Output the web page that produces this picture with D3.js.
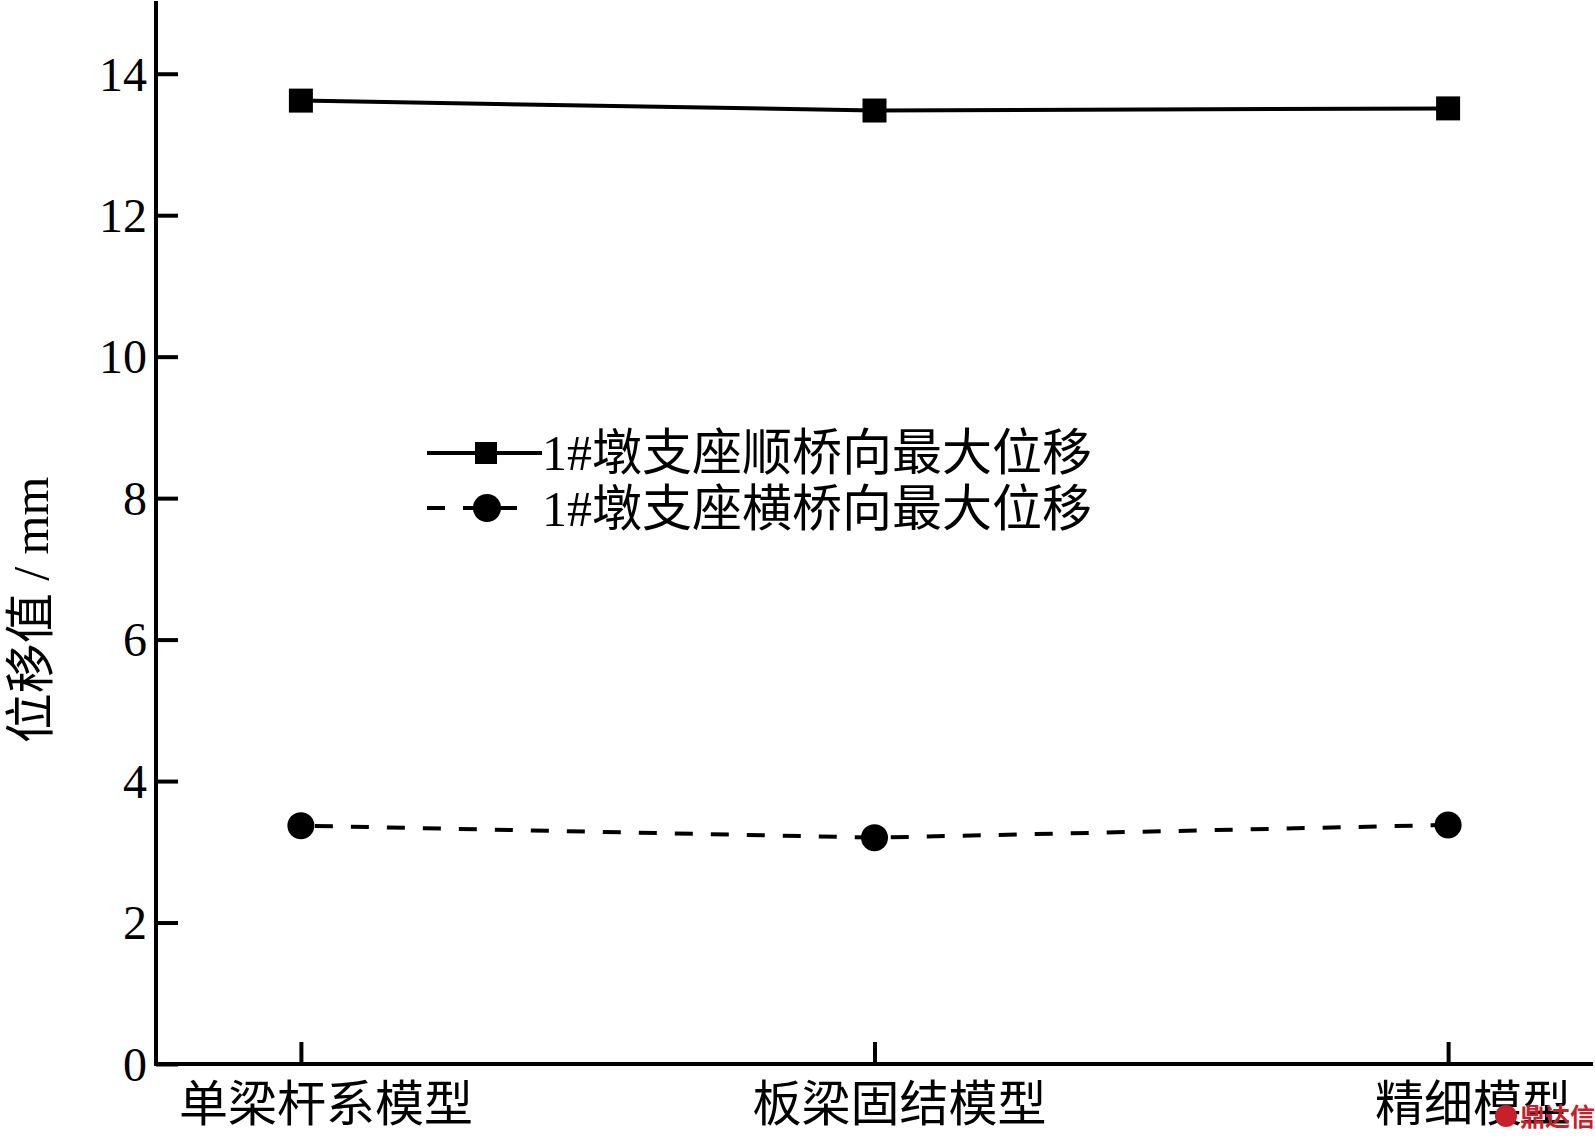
<!DOCTYPE html>
<html>
<head>
<meta charset="utf-8">
<script src="https://cdn.jsdelivr.net/npm/d3@7/dist/d3.min.js"></script>
<style>
  html, body { margin: 0; padding: 0; background: #fff; }
  svg { display: block; }
  text { font-family: "Liberation Serif", "Noto Sans CJK SC", serif; fill: #000; }
</style>
</head>
<body>
<svg id="chart" width="1595" height="1139"></svg>
<script>
const categories = ["单梁杆系模型", "板梁固结模型", "精细模型"];
const seriesNames = ["1#墩支座顺桥向最大位移", "1#墩支座横桥向最大位移"];
const longitudinal = [13.62, 13.48, 13.51];
const transverse = [3.37, 3.20, 3.38];
const yTicks = [0, 2, 4, 6, 8, 10, 12, 14];
const yTitle = "位移值 / mm";

(function () {
const svg = d3.select("#chart");
const mLeft = 156, mRight = 1593, mBottom = 1064, mTop = 3;

const x = d3.scalePoint().domain(categories).range([mLeft, mRight]).padding(0.2526);
const y = d3.scaleLinear().domain([0, 15]).range([mBottom, mTop]);

// axes
const yAxis = d3.axisLeft(y).tickValues(yTicks).tickSize(-22).tickPadding(10).tickFormat(d3.format("d"));
const gy = svg.append("g").attr("transform", `translate(${mLeft},0)`).call(yAxis);
gy.select(".domain").remove();
gy.selectAll(".tick line").attr("stroke", "#000").attr("stroke-width", 4);
gy.selectAll(".tick text").attr("font-size", 48).attr("x", -9).attr("dy", "0.34em")
  .attr("font-family", "Liberation Serif");

const xAxis = d3.axisBottom(x).tickSize(-22).tickPadding(0).tickFormat("");
const gx = svg.append("g").attr("transform", `translate(0,${mBottom})`).call(xAxis);
gx.select(".domain").remove();
gx.selectAll(".tick line").attr("stroke", "#000").attr("stroke-width", 4);

svg.append("g").selectAll("text").data(categories).join("text")
  .attr("x", d => x(d) + 25).attr("y", 1121)
  .attr("text-anchor", "middle").attr("font-size", 49)
  .text(d => d);

// axis lines
svg.append("line").attr("x1", mLeft).attr("x2", mLeft).attr("y1", 1).attr("y2", mBottom + 2)
  .attr("stroke", "#000").attr("stroke-width", 4);
svg.append("line").attr("x1", mLeft - 2).attr("x2", mRight).attr("y1", mBottom).attr("y2", mBottom)
  .attr("stroke", "#000").attr("stroke-width", 4);

// y title
svg.append("text")
  .attr("transform", `translate(48,610) rotate(-90)`)
  .attr("text-anchor", "middle").attr("font-size", 50)
  .text(yTitle);

// lines
const line = d3.line().x((d, i) => x(categories[i])).y(d => y(d));
svg.append("path").datum(longitudinal).attr("d", line)
  .attr("fill", "none").attr("stroke", "#000").attr("stroke-width", 4);
svg.append("path").datum(transverse).attr("d", line)
  .attr("fill", "none").attr("stroke", "#000").attr("stroke-width", 4)
  .attr("stroke-dasharray", "18,18").attr("stroke-dashoffset", -14);

// markers
const sq = 24;
svg.append("g").selectAll("rect").data(longitudinal).join("rect")
  .attr("x", (d, i) => x(categories[i]) - sq / 2).attr("y", d => y(d) - sq / 2)
  .attr("width", sq).attr("height", sq).attr("fill", "#000");
svg.append("g").selectAll("circle").data(transverse).join("circle")
  .attr("cx", (d, i) => x(categories[i])).attr("cy", d => y(d)).attr("r", 13.5).attr("fill", "#000");

// legend
const lg = svg.append("g");
lg.append("line").attr("x1", 427).attr("x2", 542).attr("y1", 453).attr("y2", 453)
  .attr("stroke", "#000").attr("stroke-width", 4);
lg.append("rect").attr("x", 486 - 11).attr("y", 453 - 11).attr("width", 22).attr("height", 22).attr("fill", "#000");
lg.append("text").attr("x", 542).attr("y", 470).attr("font-size", 50).text(seriesNames[0]);

lg.append("line").attr("x1", 427).attr("x2", 517).attr("y1", 508).attr("y2", 508)
  .attr("stroke", "#000").attr("stroke-width", 4).attr("stroke-dasharray", "18,18");
lg.append("circle").attr("cx", 487).attr("cy", 508).attr("r", 14).attr("fill", "#000");
lg.append("text").attr("x", 542).attr("y", 526).attr("font-size", 50).text(seriesNames[1]);

// watermark
const wm = svg.append("g");
wm.append("circle").attr("cx", 1506).attr("cy", 1116).attr("r", 11).attr("fill", "#c8202a");
wm.append("text").attr("x", 1520).attr("y", 1126).attr("font-size", 25).attr("font-weight", "bold")
  .attr("font-family", "Noto Sans CJK SC").style("fill", "#c8202a").text("鼎达信");
})();
</script>
</body>
</html>
